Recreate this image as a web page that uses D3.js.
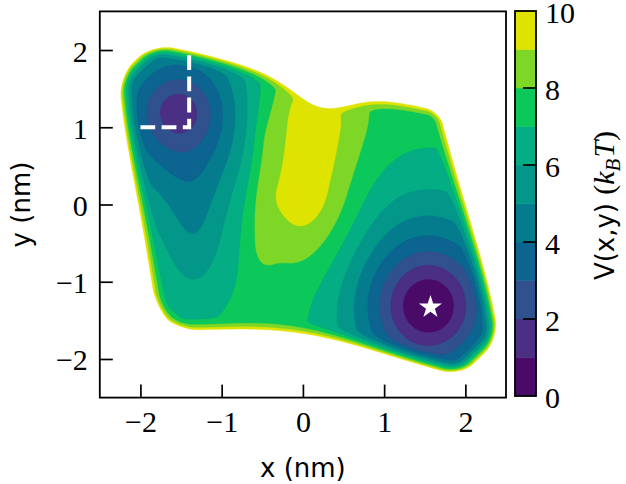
<!DOCTYPE html>
<html><head><meta charset="utf-8">
<script src="https://cdn.jsdelivr.net/npm/d3@7"></script>
<style>body{margin:0;background:#fff} svg{display:block}</style>
</head><body>
<svg id="c" width="626" height="484"></svg>
<script>
// ---------------- data ----------------
const levels = [0,1,2,3,4,5,6,7,8,9,10];
const bandColors = ['#4a0b68','#4a2f85','#30508e','#0c6590','#057c8e','#03978a','#04ad83','#0cc85a','#7ed726','#dfe300'];
const xTicks = [-2,-1,0,1,2];
const yTicks = [-2,-1,0,1,2];
const cbTicks = [0,2,4,6,8,10];
const xDomain = [-2.5, 2.5];
const yDomain = [-2.5, 2.5];

// potential model V(x,y) in kBT: base level + Gaussian features (segment-shaped) + confining walls
const baseLevel = 7.6;
const featName = ['Rn','Rb','La','Lb','LB','T','Hill','Ridge'];
const featAmp  = [-2.8, -4.8, -1.5, -4.2, -1.1, -1.0, 2.4, 0.6];
const featX1   = [1.55, 1.52, -1.55, -1.55, -1.35, -1.35, 0.00, -0.52];
const featY1   = [-1.33, -1.25, 1.22, 1.22, -0.10, -0.45, 0.20, -0.50];
const featX2   = [1.55, 1.52, -1.55, -1.55, -1.35, -1.35, 0.05, -0.47];
const featY2   = [-1.33, -1.25, 1.22, 1.22, -0.10, -0.45, 1.00, 0.80];
const featSx   = [0.45, 0.75, 0.30, 0.68, 0.60, 0.25, 0.45, 0.13];
const featSy   = [0.45, 0.98, 0.30, 0.80, 1.10, 0.60, 0.70, 0.30];

const wallK = 100;
const wallNx = [-1, 1, 0.23, 0, -Math.SQRT1_2, Math.SQRT1_2, -Math.SQRT1_2];
const wallNy = [-0.139, 0.23, 1, -1, Math.SQRT1_2, -Math.SQRT1_2, -Math.SQRT1_2];
const wallC  = [1.83, 1.79, 1.44, 1.44, 2.57, 2.70, 2.07];
const wallBend   = [0, 0, 0, -0.07, 0, 0, 0];
const wallBendAt = [0, 0, 0, -0.868, 0, 0, 0];
const wallDip    = [0, 0, 0.2, 0, 0, 0, 0];
const wallDipAt  = [0, 0, 0.26, 0, 0, 0, 0];
const wallDipW   = [1, 1, 0.35, 1, 1, 1, 1];

// markers
const starX = [1.57], starY = [-1.33];
const boxX = [-2.0, -1.4, -1.4], boxY = [1.0, 1.0, 2.0];

// ---------------- model ----------------
function potential(x, y) {
  let v = baseLevel;
  for (let i = 0; i < featAmp.length; i++) {
    const ax = featX1[i], ay = featY1[i], ex = featX2[i]-ax, ey = featY2[i]-ay;
    const L2 = ex*ex + ey*ey;
    let t = 0;
    if (L2 > 0) t = Math.max(0, Math.min(1, ((x-ax)*ex + (y-ay)*ey)/L2));
    const dx = (x - (ax + t*ex)) / featSx[i], dy = (y - (ay + t*ey)) / featSy[i];
    v += featAmp[i] * Math.exp(-0.5*(dx*dx + dy*dy));
  }
  for (let j = 0; j < wallC.length; j++) {
    const b = Math.max(0, x - wallBendAt[j]);
    const u = (x - wallDipAt[j]) / wallDipW[j];
    const d = wallNx[j]*x + wallNy[j]*y - wallC[j] + wallBend[j]*b*b + wallDip[j]*Math.exp(-0.5*u*u);
    if (d > 0) v += wallK*d*d;
  }
  return v;
}

// ---------------- drawing ----------------
const svg = d3.select('#c');
const plot = {l: 99.8, r: 506, t: 11.4, b: 397.6};
const x = d3.scaleLinear().domain(xDomain).range([plot.l, plot.r]);
const y = d3.scaleLinear().domain(yDomain).range([plot.b, plot.t]);

const n = 321;
const step = (xDomain[1]-xDomain[0])/(n-1);
const vals = new Float64Array(n*n);
for (let j = 0; j < n; j++) {
  const yy = yDomain[1] - j*step;
  for (let i = 0; i < n; i++) vals[j*n+i] = -potential(xDomain[0] + i*step, yy);
}
const thr = levels.slice(1).map(t => -t).reverse();
const contours = d3.contours().size([n, n]).thresholds(thr)(vals);
const proj = d3.geoTransform({point: function(px, py) {
  this.stream.point(x(xDomain[0] + px*step), y(yDomain[1] - py*step));
}});
const path = d3.geoPath(proj);

svg.append('clipPath').attr('id','clip').append('rect')
  .attr('x', plot.l).attr('y', plot.t).attr('width', plot.r-plot.l).attr('height', plot.b-plot.t);

const g = svg.append('g').attr('clip-path','url(#clip)');
const sorted = contours.slice().sort((a,b) => a.value - b.value);
g.selectAll('path.band').data(sorted).join('path')
  .attr('class','band')
  .attr('d', path)
  .attr('fill', d => bandColors[Math.round(-d.value) - 1])
  .attr('stroke', d => bandColors[Math.round(-d.value) - 1])
  .attr('stroke-width', 0.3);

g.append('path')
  .attr('d', d3.line().x(d => x(d[0])).y(d => y(d[1]))(boxX.map((v,i) => [v, boxY[i]])))
  .attr('fill','none').attr('stroke','#fff').attr('stroke-width',4)
  .attr('stroke-dasharray','14.8,6.4');

g.selectAll('path.star').data(starX.map((v,i)=>[v, starY[i]])).join('path')
  .attr('class','star')
  .attr('transform', d => `translate(${x(d[0])},${y(d[1])})`)
  .attr('d', d3.symbol().type(d3.symbolStar).size(165)())
  .attr('fill','#fff');

const serif = "'Liberation Serif','DejaVu Serif',serif";
const sans = "'DejaVu Sans','Liberation Sans',sans-serif";
const fmt = d3.format('d');
const ax = svg.append('g').attr('transform', `translate(0,${plot.b})`)
  .call(d3.axisBottom(x).tickValues(xTicks).tickFormat(fmt).tickSizeInner(-13).tickSizeOuter(0).tickPadding(13));
const ay = svg.append('g').attr('transform', `translate(${plot.l},0)`)
  .call(d3.axisLeft(y).tickValues(yTicks).tickFormat(fmt).tickSizeInner(-13).tickSizeOuter(0).tickPadding(12));
[ax, ay].forEach(a => {
  a.select('.domain').remove();
  a.selectAll('line').attr('stroke','#000').attr('stroke-width',1.7);
  a.selectAll('text').attr('font-family', serif).attr('font-size', 30).attr('fill','#000');
});
ay.selectAll('text').attr('dy', null).attr('y', 11);

svg.append('rect').attr('x', plot.l).attr('y', plot.t)
  .attr('width', plot.r-plot.l).attr('height', plot.b-plot.t)
  .attr('fill','none').attr('stroke','#000').attr('stroke-width',1.8);

svg.append('text').attr('x', (plot.l+plot.r)/2).attr('y', 477)
  .attr('text-anchor','middle').attr('font-family', sans).attr('font-size', 26)
  .text('x (nm)');
svg.append('text').attr('transform', `translate(30,${(plot.t+plot.b)/2}) rotate(-90)`)
  .attr('text-anchor','middle').attr('font-family', sans).attr('font-size', 26)
  .text('y (nm)');

const cb = {l: 515, r: 536, t: 11, b: 396};
const cy = d3.scaleLinear().domain([levels[0], levels[levels.length-1]]).range([cb.b, cb.t]);
svg.selectAll('rect.cb').data(bandColors).join('rect').attr('class','cb')
  .attr('x', cb.l).attr('width', cb.r-cb.l)
  .attr('y', (c,i) => cy(levels[i+1])).attr('height', (c,i) => cy(levels[i]) - cy(levels[i+1]))
  .attr('fill', c => c).attr('stroke', c => c).attr('stroke-width', 0.5);
svg.selectAll('line.cbt').data(cbTicks.filter(t => t > levels[0] && t < levels[levels.length-1])).join('line')
  .attr('class','cbt').attr('x1', cb.r).attr('x2', cb.r-13)
  .attr('y1', d => cy(d)).attr('y2', d => cy(d)).attr('stroke','#000').attr('stroke-width',1.7);
svg.append('rect').attr('x', cb.l).attr('y', cb.t).attr('width', cb.r-cb.l).attr('height', cb.b-cb.t)
  .attr('fill','none').attr('stroke','#000').attr('stroke-width',1.8);
svg.selectAll('text.cbl').data(cbTicks).join('text').attr('class','cbl')
  .attr('x', 545).attr('y', d => cy(d) + 12)
  .attr('font-family', serif).attr('font-size', 30).text(d => fmt(d));

const lab = svg.append('text').attr('transform', `translate(614,${(cb.t+cb.b)/2+2}) rotate(-90)`)
  .attr('text-anchor','middle').attr('font-size', 26).attr('font-family', sans);
lab.append('tspan').text('V(x,y) ');
lab.append('tspan').attr('font-family', serif).attr('font-size', 30).text('(');
lab.append('tspan').attr('font-family', serif).attr('font-size', 30).attr('font-style','italic').text('k');
lab.append('tspan').attr('font-family', serif).attr('font-size', 21).attr('font-style','italic').attr('dy', 6).text('B');
lab.append('tspan').attr('font-family', serif).attr('font-size', 30).attr('font-style','italic').attr('dy', -6).attr('dx', 1).text('T');
lab.append('tspan').attr('font-family', serif).attr('font-size', 30).text(')');
</script>
</body></html>
